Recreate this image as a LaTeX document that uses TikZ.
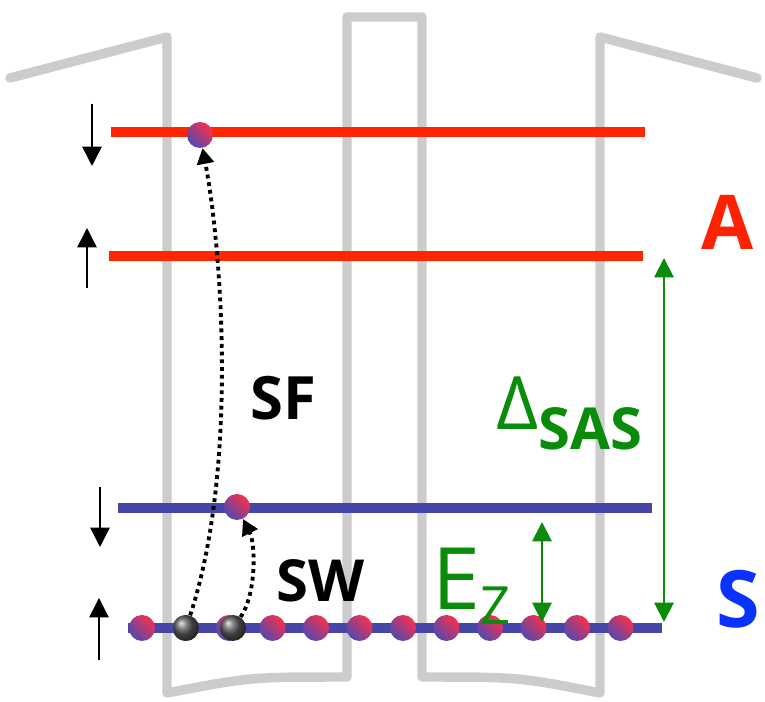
\documentclass[tikz,border=0pt]{standalone}
\usepackage{fontspec}
\setsansfont{Open Sans}
\usetikzlibrary{arrows.meta,positioning}
\definecolor{wellgray}{HTML}{CCCCCC}
\definecolor{levred}{HTML}{FF2600}
\definecolor{levblue}{HTML}{4646A8}
\definecolor{ballred}{HTML}{F8304C}
\definecolor{ballblue}{HTML}{5248B0}
\definecolor{labgreen}{HTML}{0A8C0A}
\definecolor{labred}{HTML}{FF2200}
\definecolor{labblue}{HTML}{0A32FF}
\tikzset{
  well/.style={wellgray,line width=5.4pt,line join=round,line cap=round},
  alevel/.style={levred,line width=6.2pt},
  slevel/.style={levblue,line width=5.7pt},
  eball/.style={circle,minimum size=14.8pt,inner sep=0pt,
    top color=ballred,bottom color=ballblue,shading angle=-45},
  hball/.style={circle,minimum size=14.8pt,inner sep=0pt,ball color=gray!70!black},
  spinarr/.style={-{Triangle[length=11pt,width=11pt]},line width=0.85pt},
  gaparr/.style={{Triangle[length=11pt,width=11pt]}-{Triangle[length=11pt,width=11pt]},
    labgreen,line width=1.1pt},
  hop/.style={-{Triangle[length=9pt,width=9.5pt]},line width=2.2pt,
    dash pattern=on 2.2pt off 2.2pt},
  lab/.style={inner sep=0pt,anchor=base west,font=\sffamily\bfseries},
}

\begin{document}
\begin{tikzpicture}[x=0.02cm,y=-0.02cm]
  \useasboundingbox (0,0) rectangle (765,702);

  % double well profile
  \draw[well] (10,78) -- (167,37) -- (167,693) .. controls (250,677) .. (347,677)
    -- (347,17) -- (422,17) -- (422,677) .. controls (519,677) .. (600,693)
    -- (600,37) -- (757,78);

  % levels
  \coordinate (a2w) at (111,132); \coordinate (a2e) at (645,132);
  \coordinate (a1w) at (109,256); \coordinate (a1e) at (643,256);
  \coordinate (s2w) at (118,508); \coordinate (s2e) at (652,508);
  \coordinate (s1w) at (128,628); \coordinate (s1e) at (662,628);
  \draw[alevel] (a2w) -- (a2e);
  \draw[alevel] (a1w) -- (a1e);
  \draw[slevel] (s2w) -- (s2e);
  \draw[slevel] (s1w) -- (s1e);

  % spins
  \coordinate (up2a) at (92,104);  \coordinate (up2b) at (92,166);
  \coordinate (up1a) at (87,288);  \coordinate (up1b) at (87,228);
  \coordinate (dn2a) at (100,487); \coordinate (dn2b) at (100,547);
  \coordinate (dn1a) at (99,660);  \coordinate (dn1b) at (99,598);
  \draw[spinarr] (up2a) -- (up2b);
  \draw[spinarr] (up1a) -- (up1b);
  \draw[spinarr] (dn2a) -- (dn2b);
  \draw[spinarr] (dn1a) -- (dn1b);

  % electrons
  \foreach \i in {0,...,11}
    \node[eball] (e\i) at (142+43.5*\i,628) {};
  \node[hball] (h1) at (186,628) {};
  \node[hball] (h2) at (233,628) {};
  \node[eball] (x1) at (200,135) {};
  \node[eball] (x2) at (237,507) {};

  % flips
  \draw[hop] (h1) .. controls (238,470) and (222,250) .. (x1);
  \draw[hop] (h2) .. controls (256,595) and (256,545) .. (x2);

  % gaps
  \coordinate (ezt) at (542,522);  \coordinate (ezb) at (542,622);
  \coordinate (sast) at (664,258); \coordinate (sasb) at (664,622);
  \draw[gaparr] (ezt) -- (ezb);
  \draw[gaparr] (sast) -- (sasb);

  % labels
  \node[lab,font=\sffamily\bfseries\fontsize{34}{34}\selectfont] (lblSF) at (250,420) {SF};
  \node[lab,font=\sffamily\bfseries\fontsize{33}{33}\selectfont] (lblSW) at (276,602) {SW};
  \node[lab,labred,font=\sffamily\bfseries\fontsize{43}{43}\selectfont] (lblA) at (701,250) {A};
  \node[lab,labblue,font=\sffamily\bfseries\fontsize{45}{45}\selectfont] (lblS) at (716,628) {S};
  \node[lab,labgreen,font=\sffamily\fontsize{42}{42}\selectfont] (lblgap) at (496,430)
    {Δ\raisebox{-11pt}{\bfseries\fontsize{33}{33}\selectfont SAS}};
  \node[lab,labgreen,font=\sffamily\fontsize{49}{49}\selectfont] (lblEz) at (432,610)
    {E\raisebox{-8.5pt}{\fontsize{30}{30}\selectfont Z}};
\end{tikzpicture}
\end{document}
